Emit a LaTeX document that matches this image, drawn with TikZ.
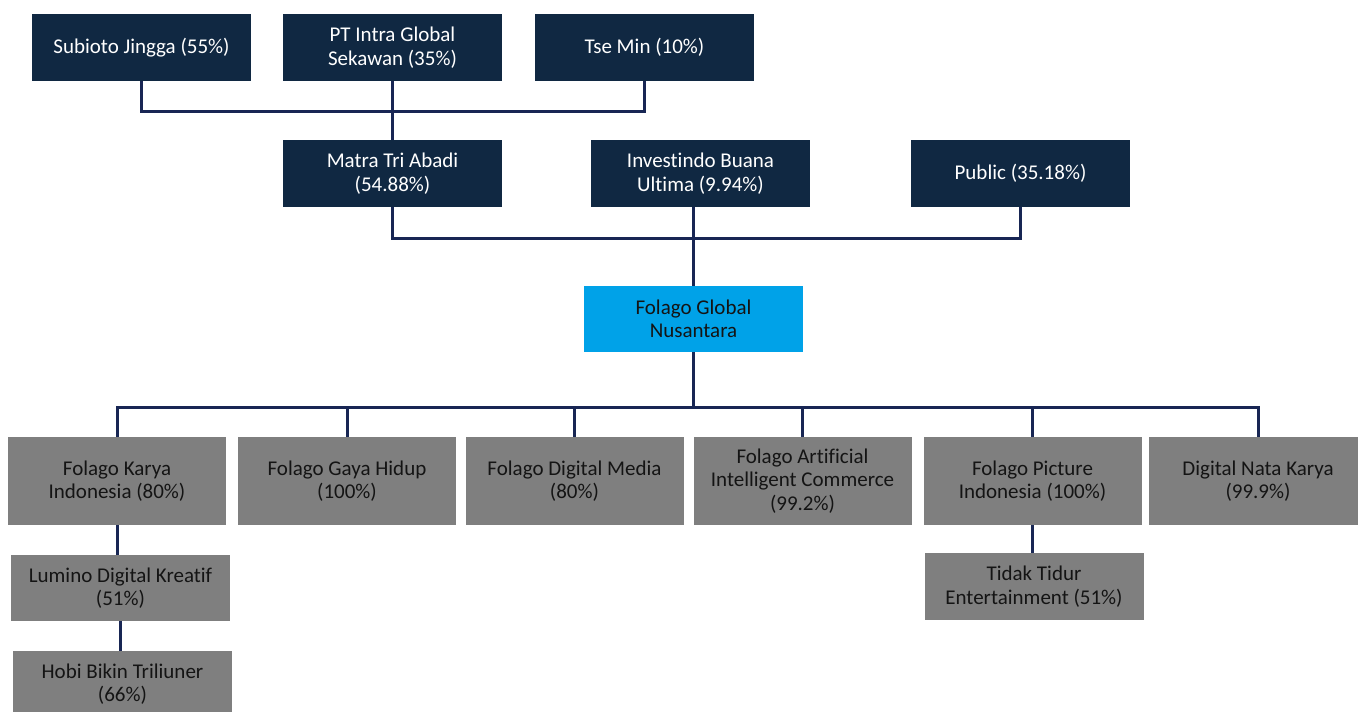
\documentclass[tikz,border=0pt]{standalone}
\usepackage{fontspec}
\setmainfont{Carlito}[Ligatures={NoCommon}, RawFeature={-liga;-clig;-dlig}]
\definecolor{navy}{RGB}{16,40,66}
\definecolor{lineblue}{RGB}{24,38,84}
\definecolor{skyb}{RGB}{0,162,232}
\definecolor{greyb}{RGB}{127,127,127}
\definecolor{darktext}{RGB}{20,20,20}
\tikzset{
  base/.style={rectangle, inner sep=0pt, align=center, minimum width=219pt, minimum height=67pt,
    font=\fontsize{21}{23.5}\selectfont},
  topbox/.style={base, fill=navy, text=white},
  mainbox/.style={base, fill=skyb, text=darktext, minimum height=66pt},
  subbox/.style={base, fill=greyb, text=darktext},
  conn/.style={draw=lineblue, line width=3pt}
}
\begin{document}
\begin{tikzpicture}[x=1pt,y=-1pt]
\useasboundingbox (0,0) rectangle (1358,712);
\begin{scope}
\clip (0,0) rectangle (1358,712);
% top row
\node[topbox] (sub) at (141.5,47.5) {Subioto Jingga (55\%)};
\node[topbox] (pti) at (392.5,47.5) {PT Intra Global\\Sekawan (35\%)};
\node[topbox] (tse) at (644.5,47.5) {Tse Min (10\%)};
% second row
\node[topbox] (matra) at (392.5,173.5) {Matra Tri Abadi\\(54.88\%)};
\node[topbox] (inv) at (700.5,173.5) {Investindo Buana\\Ultima (9.94\%)};
\node[topbox] (pub) at (1020.5,173.5) {Public (35.18\%)};
% main
\node[mainbox] (fgn) at (693.5,319) {Folago Global\\Nusantara};
% subsidiaries
\node[subbox, minimum width=218pt, minimum height=88pt] (fk) at (117,481) {Folago Karya\\Indonesia (80\%)};
\node[subbox, minimum width=218pt, minimum height=88pt] (fgh) at (347,481) {Folago Gaya Hidup\\(100\%)};
\node[subbox, minimum width=218pt, minimum height=88pt] (fdm) at (574.5,481) {Folago Digital Media\\(80\%)};
\node[subbox, minimum width=218pt, minimum height=88pt] (fai) at (802.5,481) {Folago Artificial\\Intelligent Commerce\\(99.2\%)};
\node[subbox, minimum width=218pt, minimum height=88pt] (fpi) at (1032.5,481) {Folago Picture\\Indonesia (100\%)};
\node[subbox, minimum width=218pt, minimum height=88pt] (dnk) at (1258,481) {Digital Nata Karya\\(99.9\%)};
\node[subbox, minimum height=66pt] (lum) at (120.5,588) {Lumino Digital Kreatif\\(51\%)};
\node[subbox, minimum height=66pt] (hobi) at (122.5,684) {Hobi Bikin Triliuner\\(66\%)};
\node[subbox] (ttt) at (1034,586.5) {Tidak Tidur\\Entertainment (51\%)};
\end{scope}
% connectors
\coordinate (b1) at (0,111);
\coordinate (b2) at (0,238);
\coordinate (b3) at (0,407);
\draw[conn] (sub.south) -- (sub.south |- b1) -- (tse.south |- b1) -- (tse.south);
\draw[conn] (pti.south) -- (matra.north);
\draw[conn] (matra.south) -- (matra.south |- b2) -- (pub.south |- b2) -- (pub.south);
\draw[conn] (fgn.north) -- (fgn.north |- inv.south);
\draw[conn] (fgn.south) -- (fgn.south |- b3);
\draw[conn] (fk.north) -- (fk.north |- b3) -- (dnk.north |- b3) -- (dnk.north);
\foreach \n in {fgh,fdm,fai,fpi} \draw[conn] (\n.north) -- (\n.north |- b3);
\draw[conn] (fk.south) -- (fk.south |- lum.north);
\draw[conn] (lum.south) -- (lum.south |- hobi.north);
\draw[conn] (fpi.south) -- (fpi.south |- ttt.north);
\end{tikzpicture}
\end{document}
